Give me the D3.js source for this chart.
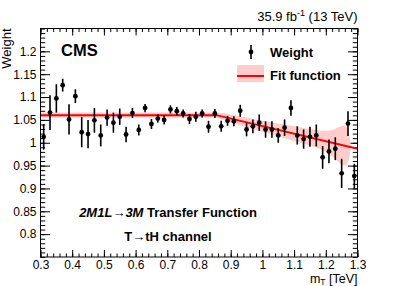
<!DOCTYPE html>
<html>
<head>
<meta charset="utf-8">
<script src="https://cdn.jsdelivr.net/npm/d3@7"></script>
<style>
  body { margin: 0; background: white; }
  text { font-family: "Liberation Sans", Arial, Helvetica, sans-serif; }
</style>
</head>
<body>
<div id="chart"></div>
<script>
var mT = [0.31, 0.33, 0.35, 0.37, 0.39, 0.41, 0.43, 0.45, 0.47, 0.49,
          0.51, 0.53, 0.55, 0.57, 0.59, 0.61, 0.63, 0.65, 0.67, 0.69,
          0.71, 0.73, 0.75, 0.77, 0.79, 0.81, 0.83, 0.85, 0.87, 0.89,
          0.91, 0.93, 0.95, 0.97, 0.99, 1.01, 1.03, 1.05, 1.07, 1.09,
          1.11, 1.13, 1.15, 1.17, 1.19, 1.21, 1.23, 1.25, 1.27, 1.29];
var weight = [1.013, 1.066, 1.097, 1.126, 1.051, 1.102, 1.023, 1.019, 1.049, 1.016,
              1.055, 1.044, 1.057, 1.018, 1.065, 1.028, 1.076, 1.041, 1.053, 1.050,
              1.073, 1.069, 1.064, 1.052, 1.057, 1.064, 1.035, 1.064, 1.036, 1.048,
              1.047, 1.070, 1.029, 1.036, 1.044, 1.029, 1.029, 1.016, 1.033, 1.076,
              1.016, 1.008, 1.013, 1.016, 0.968, 0.981, 0.987, 0.933, 1.042, 0.927];
var weightErr = [0.028, 0.038, 0.031, 0.014, 0.033, 0.015, 0.033, 0.031, 0.027, 0.024,
                 0.018, 0.022, 0.018, 0.017, 0.011, 0.012, 0.009, 0.011, 0.009, 0.010,
                 0.009, 0.009, 0.009, 0.011, 0.011, 0.009, 0.013, 0.010, 0.012, 0.011,
                 0.011, 0.013, 0.015, 0.015, 0.018, 0.018, 0.018, 0.016, 0.018, 0.017,
                 0.020, 0.021, 0.022, 0.024, 0.025, 0.026, 0.025, 0.032, 0.027, 0.027];

var fitX = [0.3, 0.855, 1.3];
var fitY = [1.0604, 1.0604, 0.987];

var bandX  = [0.3, 0.85, 0.9, 0.95, 1.0, 1.05, 1.1, 1.15, 1.2, 1.22, 1.24, 1.26, 1.27, 1.278];
var bandHi = [1.066, 1.066, 1.062, 1.055, 1.048, 1.042, 1.036, 1.030, 1.026, 1.028, 1.034, 1.038, 1.030, 1.000];
var bandLo = [1.055, 1.055, 1.044, 1.034, 1.024, 1.014, 1.004, 0.994, 0.980, 0.970, 0.958, 0.950, 0.957, 0.985];

var xTicks = [0.3, 0.4, 0.5, 0.6, 0.7, 0.8, 0.9, 1.0, 1.1, 1.2, 1.3];
var yTicks = [0.8, 0.85, 0.9, 0.95, 1.0, 1.05, 1.1, 1.15, 1.2];

var width = 399, height = 286;
var x0 = 40.5, x1 = 357.5, y0 = 257, y1 = 28.5;

var x = d3.scaleLinear().domain([0.3, 1.3]).range([x0, x1]);
var y = d3.scaleLinear().domain([0.75, 1.25]).range([y0, y1]);

var svg = d3.select("#chart").append("svg")
    .attr("width", width)
    .attr("height", height)
    .style("background", "white");

var fmt = function(d) { return String(+d.toFixed(2)); };

// minor ticks every fifth of a major step
var xMinor = d3.range(0.3, 1.3001, 0.02).map(function(d) { return +d.toFixed(2); });
var yMinor = d3.range(0.75, 1.2501, 0.01).map(function(d) { return +d.toFixed(2); });

function drawAxis(axis, tx, ty) {
  var g = svg.append("g")
      .attr("transform", "translate(" + tx + "," + ty + ")")
      .call(axis);
  g.select(".domain").remove();
  g.selectAll("line").attr("stroke", "black").attr("stroke-width", 1);
  g.selectAll("text")
      .attr("fill", "black")
      .style("font-size", "12px")
      .style("font-family", "'Liberation Sans', Arial, sans-serif");
  return g;
}

// bottom / top
drawAxis(d3.axisBottom(x).tickValues(xTicks).tickSize(-7).tickPadding(3.5).tickFormat(fmt), 0, y0);
drawAxis(d3.axisBottom(x).tickValues(xMinor).tickSize(-3.5).tickFormat(""), 0, y0);
drawAxis(d3.axisTop(x).tickValues(xTicks).tickSize(-7).tickFormat(""), 0, y1);
drawAxis(d3.axisTop(x).tickValues(xMinor).tickSize(-3.5).tickFormat(""), 0, y1);
// left / right
drawAxis(d3.axisLeft(y).tickValues(yTicks).tickSize(-9.5).tickPadding(4).tickFormat(fmt), x0, 0);
drawAxis(d3.axisLeft(y).tickValues(yMinor).tickSize(-4.7).tickFormat(""), x0, 0);
drawAxis(d3.axisRight(y).tickValues(yTicks).tickSize(-9.5).tickFormat(""), x1, 0);
drawAxis(d3.axisRight(y).tickValues(yMinor).tickSize(-4.7).tickFormat(""), x1, 0);

// fit band and fit line
var band = bandX.map(function(d, i) { return [d, bandLo[i], bandHi[i]]; });
svg.append("path")
    .datum(band)
    .attr("fill", "#ffcccc")
    .attr("d", d3.area()
        .curve(d3.curveMonotoneX)
        .x(function(d) { return x(d[0]); })
        .y0(function(d) { return y(d[1]); })
        .y1(function(d) { return y(d[2]); }));

svg.append("path")
    .datum(fitX.map(function(d, i) { return [d, fitY[i]]; }))
    .attr("fill", "none")
    .attr("stroke", "#ff0000")
    .attr("stroke-width", 2)
    .attr("d", d3.line()
        .x(function(d) { return x(d[0]); })
        .y(function(d) { return y(d[1]); }));

// data points with error bars
var pts = svg.append("g").selectAll("g")
    .data(mT.map(function(d, i) { return [d, weight[i], weightErr[i]]; }))
  .enter().append("g");

pts.append("line")
    .attr("x1", function(d) { return x(d[0]); })
    .attr("x2", function(d) { return x(d[0]); })
    .attr("y1", function(d) { return y(d[1] - d[2]); })
    .attr("y2", function(d) { return y(d[1] + d[2]); })
    .attr("stroke", "black")
    .attr("stroke-width", 1.6);

pts.append("circle")
    .attr("cx", function(d) { return x(d[0]); })
    .attr("cy", function(d) { return y(d[1]); })
    .attr("r", 2.4)
    .attr("fill", "black");

// frame
svg.append("rect")
    .attr("x", x0).attr("y", y1)
    .attr("width", x1 - x0).attr("height", y0 - y1)
    .attr("fill", "none")
    .attr("stroke", "black")
    .attr("stroke-width", 1);

// labels
svg.append("text")
    .attr("x", 61).attr("y", 56)
    .style("font-size", "16.5px").style("font-weight", "bold")
    .text("CMS");

var lumi = svg.append("text")
    .attr("x", x1).attr("y", 21)
    .attr("text-anchor", "end")
    .style("font-size", "13px");
lumi.append("tspan").text("35.9 fb");
lumi.append("tspan").attr("dy", -5).style("font-size", "9px").text("-1");
lumi.append("tspan").attr("dy", 5).text(" (13 TeV)");

svg.append("text")
    .attr("transform", "translate(11," + y1 + ") rotate(-90)")
    .attr("text-anchor", "end")
    .style("font-size", "13px")
    .text("Weight");

var xt = svg.append("text")
    .attr("x", x1).attr("y", 282.5)
    .attr("text-anchor", "end")
    .style("font-size", "12.5px");
xt.append("tspan").text("m");
xt.append("tspan").attr("dy", 2).style("font-size", "8.5px").text("T");
xt.append("tspan").attr("dy", -2).text(" [TeV]");

// legend
var leg = svg.append("g");
leg.append("line")
    .attr("x1", 251).attr("x2", 251).attr("y1", 45).attr("y2", 59)
    .attr("stroke", "black").attr("stroke-width", 1.6);
leg.append("circle").attr("cx", 251).attr("cy", 52).attr("r", 2.4).attr("fill", "black");
leg.append("text").attr("x", 270).attr("y", 56.5)
    .style("font-size", "13px").style("font-weight", "bold").text("Weight");
leg.append("rect")
    .attr("x", 237).attr("y", 65).attr("width", 27).attr("height", 17)
    .attr("fill", "#ffcccc");
leg.append("line")
    .attr("x1", 237).attr("x2", 264).attr("y1", 76).attr("y2", 76)
    .attr("stroke", "#ff0000").attr("stroke-width", 2);
leg.append("text").attr("x", 270).attr("y", 80)
    .style("font-size", "13px").style("font-weight", "bold").text("Fit function");

// annotation
var t1 = svg.append("text")
    .attr("x", 168).attr("y", 217)
    .attr("text-anchor", "middle")
    .style("font-size", "13px").style("font-weight", "bold");
t1.append("tspan").style("font-style", "italic").text("2M1L");
t1.append("tspan").style("font-weight", "normal").text("\u2192");
t1.append("tspan").style("font-style", "italic").text("3M");
t1.append("tspan").text(" Transfer Function");

var t2 = svg.append("text")
    .attr("x", 168).attr("y", 241)
    .attr("text-anchor", "middle")
    .style("font-size", "13px").style("font-weight", "bold");
t2.append("tspan").text("T");
t2.append("tspan").style("font-weight", "normal").text("\u2192");
t2.append("tspan").text("tH channel");
</script>
</body>
</html>
